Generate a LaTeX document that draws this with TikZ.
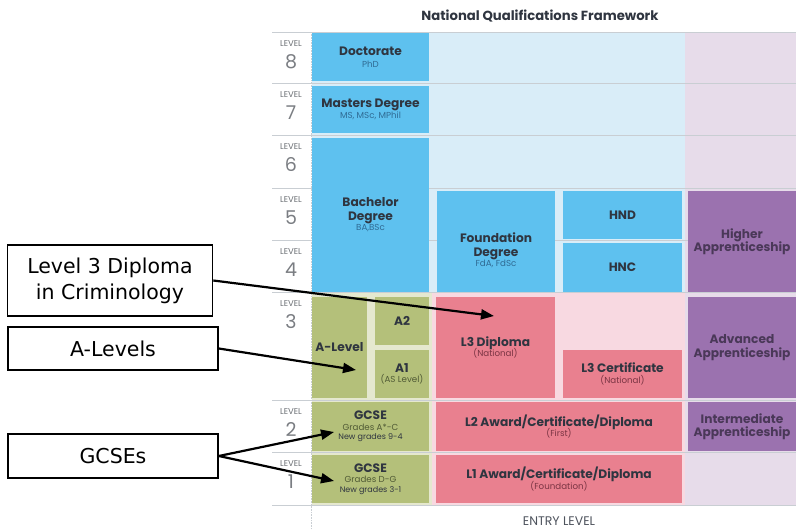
\documentclass[tikz,border=0pt]{standalone}
\usepackage{fontspec}
\setmainfont{Poppins}
\newfontfamily\handfont{DejaVu Sans}
\usetikzlibrary{arrows.meta,positioning}
\definecolor{ink}{HTML}{2F3540}
\definecolor{grey}{HTML}{6B6F74}
\definecolor{rule}{HTML}{C9CED3}
\definecolor{skyBg}{HTML}{D9EDF8}
\definecolor{sky}{HTML}{5EC1EF}
\definecolor{skySub}{HTML}{2F6A93}
\definecolor{lilacBg}{HTML}{E7DCEA}
\definecolor{lilac}{HTML}{9B72AF}
\definecolor{lilacInk}{HTML}{4A3858}
\definecolor{roseBg}{HTML}{F8D9E1}
\definecolor{rose}{HTML}{E9808F}
\definecolor{roseSub}{HTML}{7A3443}
\definecolor{oliveBg}{HTML}{E5E8CF}
\definecolor{olive}{HTML}{B4C07A}
\definecolor{oliveSub}{HTML}{505A35}
\newcommand{\qsub}[2]{{\fontsize{8.7}{10}\selectfont\mdseries\color{#1}#2}}
\tikzset{
  qbox/.style={inner sep=0pt,align=center,font=\fontsize{12.2}{13.5}\selectfont\bfseries,text=ink},
  skybox/.style={qbox,fill=sky},
  lilacbox/.style={qbox,fill=lilac,text=lilacInk},
  rosebox/.style={qbox,fill=rose},
  olivebox/.style={qbox,fill=olive},
  callout/.style={draw=black,line width=1.6pt,fill=white,inner sep=0pt,align=center,font=\handfont\fontsize{20.5}{26}\selectfont},
  pointer/.style={-{Triangle[length=13pt,width=10pt]},line width=2.2pt,draw=black}
}

\begin{document}
\begin{tikzpicture}[
    x=1pt,y=-1pt,
    lvl/.style={font=\fontsize{8.5}{9}\selectfont,text=grey},
    lvlnum/.style={font=\fontsize{19}{19}\selectfont,text=grey!90},
    row/.style={draw=rule,line width=0.7pt}
  ]
    \useasboundingbox (0,0) rectangle (796,530);

    % backgrounds
    \fill[skyBg] (312,32) rectangle (685,292);
    \fill[oliveBg] (312,292) rectangle (432,505);
    \fill[roseBg] (432,292) rectangle (685,505);
    \fill[lilacBg] (685,32) rectangle (796,505);

    \foreach \y in {32,83,135,188,240,292,400,452,505}
      \draw[row] (272,\y) -- (796,\y);
    \draw[rule,densely dotted,line width=0.6pt] (311,32) -- (311,530);

    \node[font=\fontsize{13.2}{15}\selectfont\bfseries,text=ink] (title) at (540,16) {National Qualifications Framework};
    \node[font=\fontsize{12.5}{14}\selectfont,text=ink!85] (entry) at (559,521) {ENTRY LEVEL};

    \foreach \n/\t in {8/32,7/83,6/135,5/188,4/240,3/292,2/400,1/452} {
      \node[lvl] at (291,\t+12) {LEVEL};
      \node[lvlnum] at (291,\t+30) {\n};
    }

    % level 8 to 4
    \node[skybox,minimum width=117,minimum height=48] (doc) at (370.5,57) {Doctorate\\[-2pt]\qsub{skySub}{PhD}};
    \node[skybox,minimum width=117,minimum height=47] (mast) at (370.5,109.5) {Masters Degree\\[-2pt]\qsub{skySub}{MS, MSc, MPhil}};
    \node[skybox,minimum width=117,minimum height=154] (bach) at (370.5,215) {Bachelor\\Degree\\[-3pt]\qsub{skySub}{BA,BSc}};
    \node[skybox,minimum width=118,minimum height=101] (found) at (496,241.5) {};
    \node[qbox] (foundtext) at ([yshift=-9pt]found.center) {Foundation\\Degree\\[-3pt]\qsub{skySub}{FdA, FdSc}};
    \node[skybox,minimum width=119,minimum height=48] (hnd) at (622.5,215) {HND};
    \node[skybox,minimum width=119,minimum height=49] (hnc) at (622.5,267.5) {HNC};
    \node[lilacbox,minimum width=108,minimum height=101] (higher) at (742,241.5) {Higher\\Apprenticeship};

    % level 3
    \node[olivebox,minimum width=55,minimum height=101] (alevel) at (339.5,347.5) {A-Level};
    \node[olivebox,minimum width=54,minimum height=48] (atwo) at (402,321) {A2};
    \node[olivebox,minimum width=54,minimum height=48] (aone) at (402,374) {A1\\[-3pt]\qsub{oliveSub}{(AS Level)}};
    \node[rosebox,minimum width=119,minimum height=101] (ldip) at (495.5,347.5) {L3 Diploma\\[-3pt]\qsub{roseSub}{(National)}};
    \node[rosebox,minimum width=119,minimum height=48] (lcert) at (622.5,374) {L3 Certificate\\[-3pt]\qsub{roseSub}{(National)}};
    \node[lilacbox,minimum width=108,minimum height=101] (adv) at (742,347.5) {Advanced\\Apprenticeship};

    % level 2 and 1
    \node[olivebox,minimum width=117,minimum height=49] (gtwo) at (370.5,426.5) {GCSE\\[-3pt]\qsub{oliveSub}{Grades A*-C}\\[-4pt]{\fontsize{8}{9}\selectfont\mdseries New grades 9-4}};
    \node[rosebox,minimum width=246,minimum height=49] (ltwo) at (559,426.5) {L2 Award/Certificate/Diploma\\[-3pt]\qsub{roseSub}{(First)}};
    \node[lilacbox,minimum width=108,minimum height=49] (inter) at (742,426.5) {Intermediate\\Apprenticeship};
    \node[olivebox,minimum width=117,minimum height=48] (gone) at (370.5,479) {GCSE\\[-3pt]\qsub{oliveSub}{Grades D-G}\\[-4pt]{\fontsize{8}{9}\selectfont\mdseries New grades 3-1}};
    \node[rosebox,minimum width=246,minimum height=48] (lone) at (559,479) {L1 Award/Certificate/Diploma\\[-3pt]\qsub{roseSub}{(Foundation)}};

    % callouts
    \node[callout,minimum width=205,minimum height=71] (crim) at (110,280.5) {Level 3 Diploma\\in Criminology};
    \node[callout,minimum width=210,minimum height=43] (alevs) at (113,348.5) {A-Levels};
    \node[callout,minimum width=210,minimum height=44] (gcses) at (113,456) {GCSEs};

    \coordinate (ldiptip) at (494,316);
    \coordinate (aleveltip) at (356,370);
    \coordinate (gtwotip) at (334,432);
    \coordinate (gonetip) at (334,481);
    \draw[pointer] (crim.east) -- (ldiptip);
    \draw[pointer] (alevs.east) -- (aleveltip);
    \draw[pointer] (gcses.east) -- (gtwotip);
    \draw[pointer] (gcses.east) -- (gonetip);
\end{tikzpicture}
\end{document}
